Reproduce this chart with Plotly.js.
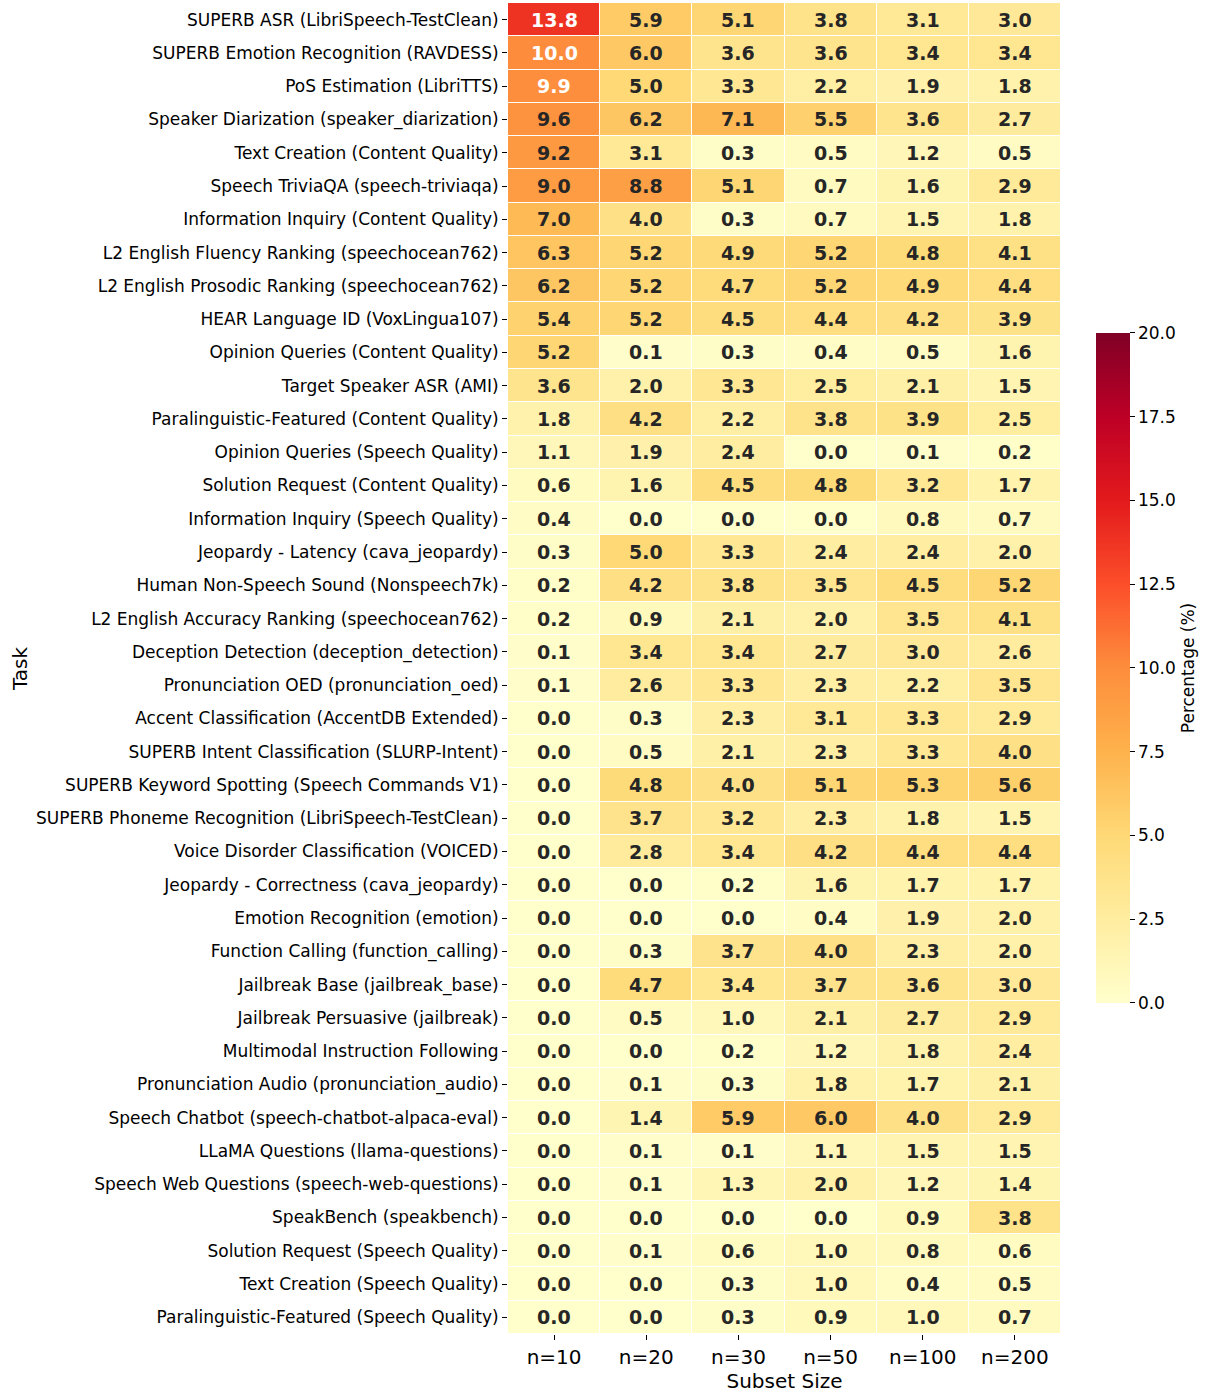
<!DOCTYPE html>
<html>
<head>
<meta charset="utf-8">
<script src="https://cdn.plot.ly/plotly-3.0.1.min.js"></script>
<style>html,body{margin:0;padding:0;background:#fff;}#chart{width:1208px;height:1393px;}</style>
</head>
<body>
<div id="chart"></div>
<script>
const tasks = [
"SUPERB ASR (LibriSpeech-TestClean)",
"SUPERB Emotion Recognition (RAVDESS)",
"PoS Estimation (LibriTTS)",
"Speaker Diarization (speaker_diarization)",
"Text Creation (Content Quality)",
"Speech TriviaQA (speech-triviaqa)",
"Information Inquiry (Content Quality)",
"L2 English Fluency Ranking (speechocean762)",
"L2 English Prosodic Ranking (speechocean762)",
"HEAR Language ID (VoxLingua107)",
"Opinion Queries (Content Quality)",
"Target Speaker ASR (AMI)",
"Paralinguistic-Featured (Content Quality)",
"Opinion Queries (Speech Quality)",
"Solution Request (Content Quality)",
"Information Inquiry (Speech Quality)",
"Jeopardy - Latency (cava_jeopardy)",
"Human Non-Speech Sound (Nonspeech7k)",
"L2 English Accuracy Ranking (speechocean762)",
"Deception Detection (deception_detection)",
"Pronunciation OED (pronunciation_oed)",
"Accent Classification (AccentDB Extended)",
"SUPERB Intent Classification (SLURP-Intent)",
"SUPERB Keyword Spotting (Speech Commands V1)",
"SUPERB Phoneme Recognition (LibriSpeech-TestClean)",
"Voice Disorder Classification (VOICED)",
"Jeopardy - Correctness (cava_jeopardy)",
"Emotion Recognition (emotion)",
"Function Calling (function_calling)",
"Jailbreak Base (jailbreak_base)",
"Jailbreak Persuasive (jailbreak)",
"Multimodal Instruction Following",
"Pronunciation Audio (pronunciation_audio)",
"Speech Chatbot (speech-chatbot-alpaca-eval)",
"LLaMA Questions (llama-questions)",
"Speech Web Questions (speech-web-questions)",
"SpeakBench (speakbench)",
"Solution Request (Speech Quality)",
"Text Creation (Speech Quality)",
"Paralinguistic-Featured (Speech Quality)"
];
const subsetLabels = ["n=10","n=20","n=30","n=50","n=100","n=200"];

const n10  = [13.8,10.0,9.9,9.6,9.2,9.0,7.0,6.3,6.2,5.4,5.2,3.6,1.8,1.1,0.6,0.4,0.3,0.2,0.2,0.1,0.1,0.0,0.0,0.0,0.0,0.0,0.0,0.0,0.0,0.0,0.0,0.0,0.0,0.0,0.0,0.0,0.0,0.0,0.0,0.0];
const n20  = [5.9,6.0,5.0,6.2,3.1,8.8,4.0,5.2,5.2,5.2,0.1,2.0,4.2,1.9,1.6,0.0,5.0,4.2,0.9,3.4,2.6,0.3,0.5,4.8,3.7,2.8,0.0,0.0,0.3,4.7,0.5,0.0,0.1,1.4,0.1,0.1,0.0,0.1,0.0,0.0];
const n30  = [5.1,3.6,3.3,7.1,0.3,5.1,0.3,4.9,4.7,4.5,0.3,3.3,2.2,2.4,4.5,0.0,3.3,3.8,2.1,3.4,3.3,2.3,2.1,4.0,3.2,3.4,0.2,0.0,3.7,3.4,1.0,0.2,0.3,5.9,0.1,1.3,0.0,0.6,0.3,0.3];
const n50  = [3.8,3.6,2.2,5.5,0.5,0.7,0.7,5.2,5.2,4.4,0.4,2.5,3.8,0.0,4.8,0.0,2.4,3.5,2.0,2.7,2.3,3.1,2.3,5.1,2.3,4.2,1.6,0.4,4.0,3.7,2.1,1.2,1.8,6.0,1.1,2.0,0.0,1.0,1.0,0.9];
const n100 = [3.1,3.4,1.9,3.6,1.2,1.6,1.5,4.8,4.9,4.2,0.5,2.1,3.9,0.1,3.2,0.8,2.4,4.5,3.5,3.0,2.2,3.3,3.3,5.3,1.8,4.4,1.7,1.9,2.3,3.6,2.7,1.8,1.7,4.0,1.5,1.2,0.9,0.8,0.4,1.0];
const n200 = [3.0,3.4,1.8,2.7,0.5,2.9,1.8,4.1,4.4,3.9,1.6,1.5,2.5,0.2,1.7,0.7,2.0,5.2,4.1,2.6,3.5,2.9,4.0,5.6,1.5,4.4,1.7,2.0,2.0,3.0,2.9,2.4,2.1,2.9,1.5,1.4,3.8,0.6,0.5,0.7];

const columns = [n10, n20, n30, n50, n100, n200];
const z = tasks.map((t, i) => columns.map(c => c[i]));

const ylorrd = [
  [0.0, '#ffffcc'], [0.125, '#ffeda0'], [0.25, '#fed976'], [0.375, '#feb24c'],
  [0.5, '#fd8d3c'], [0.625, '#fc4e2a'], [0.75, '#e31a1c'], [0.875, '#bd0026'], [1.0, '#800026']
];

const annotations = [];
tasks.forEach((t, i) => {
  subsetLabels.forEach((s, j) => {
    const v = columns[j][i];
    annotations.push({
      x: s, y: t, xref: 'x', yref: 'y', showarrow: false,
      text: '<b>' + v.toFixed(1) + '</b>',
      font: {family: 'DejaVu Sans', size: 19, color: v >= 9.75 ? '#ffffff' : '#262626'}
    });
  });
});

const data = [{
  type: 'heatmap',
  x: subsetLabels, y: tasks, z: z,
  zmin: 0, zmax: 20, colorscale: ylorrd,
  xgap: 1, ygap: 1, hoverongaps: false,
  colorbar: {
    x: 1.0633, xanchor: 'left', xpad: 0, ypad: 0,
    y: 0.5004, yanchor: 'middle', len: 0.5034, lenmode: 'fraction',
    thickness: 34, outlinewidth: 0,
    tickvals: [0, 2.5, 5, 7.5, 10, 12.5, 15, 17.5, 20],
    ticktext: ['0.0','2.5','5.0','7.5','10.0','12.5','15.0','17.5','20.0'],
    ticks: 'outside', ticklen: 5, tickwidth: 1, tickcolor: '#000',
    tickfont: {family: 'DejaVu Sans', size: 17, color: '#000'},
    title: {text: 'Percentage (%)', side: 'right', font: {family: 'DejaVu Sans', size: 17, color: '#000'}}
  }
}];

const layout = {
  width: 1208, height: 1393,
  margin: {l: 508, r: 147, t: 3, b: 59, autoexpand: false},
  paper_bgcolor: '#fff', plot_bgcolor: '#fff',
  font: {family: 'DejaVu Sans', color: '#000'},
  xaxis: {
    type: 'category', showgrid: false, zeroline: false, showline: false,
    ticks: 'outside', ticklen: 5, tickwidth: 1, tickcolor: '#000',
    tickfont: {family: 'DejaVu Sans', size: 20, color: '#000'},
    title: {text: 'Subset Size', font: {family: 'DejaVu Sans', size: 20, color: '#000'}, standoff: 2}
  },
  yaxis: {
    type: 'category', autorange: 'reversed', showgrid: false, zeroline: false, showline: false,
    ticks: 'outside', ticklen: 5, tickwidth: 1, tickcolor: '#000',
    tickfont: {family: 'DejaVu Sans', size: 17, color: '#000'},
    title: {text: 'Task', font: {family: 'DejaVu Sans', size: 20, color: '#000'}, standoff: 3}
  },
  annotations: annotations
};

Plotly.newPlot('chart', data, layout, {displayModeBar: false, responsive: false});
</script>
</body>
</html>
